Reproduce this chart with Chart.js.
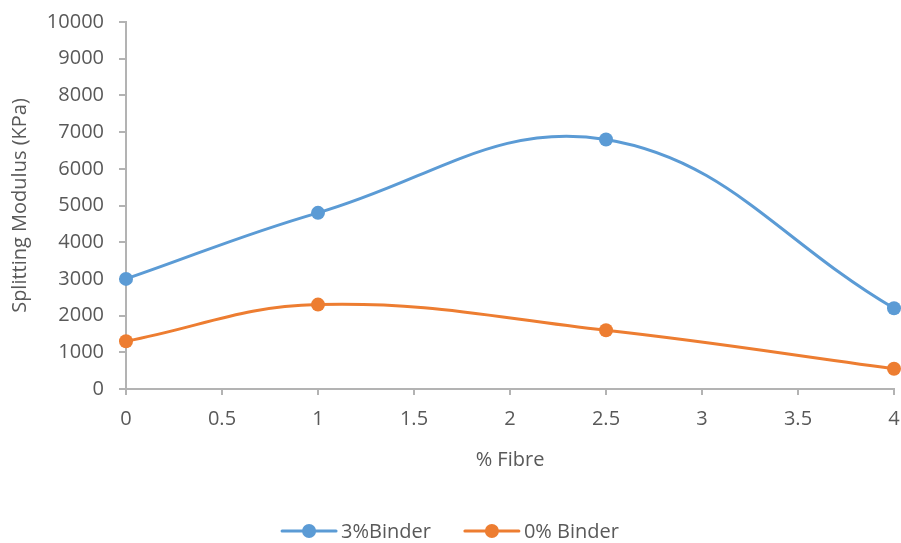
<!DOCTYPE html>
<html>
<head>
<meta charset="utf-8">
<title>Splitting Modulus vs % Fibre</title>
<script src="https://cdn.jsdelivr.net/npm/chart.js@4/dist/chart.umd.min.js"></script>
<style>
  html, body { margin: 0; padding: 0; background: #ffffff; }
  #wrap { width: 901px; height: 543px; }
</style>
</head>
<body>
<div id="wrap"><canvas id="chart" width="901" height="543"></canvas></div>
<script>
// Fibre content (%) and splitting modulus (kPa) for each binder content
const fibre = [0, 1, 2.5, 4];
const binder3 = [3000, 4800, 6800, 2200];
const binder0 = [1300, 2300, 1600, 550];
const seriesNames = ['3%Binder', '0% Binder'];
const seriesColors = ['#5b9bd5', '#ed7d31'];

const xTitle = '% Fibre';
const yTitle = 'Splitting Modulus (KPa)';

const FONT = "'Open Sans', 'Liberation Sans', sans-serif";
const TEXT = '#595959';
const AXIS = '#b3b3b3';

function toPoints(xs, ys) {
  return xs.map((x, i) => ({ x: x, y: ys[i] }));
}

// Plain number labels (no thousands separators, no forced decimals)
function plain(value) { return String(value); }

// Legend drawn below the axes: short line with a marker, then the series name
const lineLegend = {
  id: 'lineLegend',
  afterDraw(chart) {
    const ctx = chart.ctx;
    const sets = chart.data.datasets;
    const lineLen = 54, textGap = 5, itemGap = 34, cy = 531;
    ctx.save();
    ctx.font = '20px ' + FONT;
    ctx.textBaseline = 'middle';
    const widths = sets.map(ds => lineLen + textGap + ctx.measureText(ds.label).width);
    const total = widths.reduce((a, b) => a + b, 0) + itemGap * (sets.length - 1);
    let x = (chart.width - total) / 2;
    sets.forEach((ds, i) => {
      ctx.strokeStyle = ds.borderColor;
      ctx.lineWidth = 3;
      ctx.lineCap = 'round';
      ctx.beginPath();
      ctx.moveTo(x, cy);
      ctx.lineTo(x + lineLen, cy);
      ctx.stroke();
      ctx.fillStyle = ds.backgroundColor;
      ctx.beginPath();
      ctx.arc(x + lineLen / 2, cy, 7, 0, Math.PI * 2);
      ctx.fill();
      ctx.fillStyle = TEXT;
      ctx.textAlign = 'left';
      ctx.fillText(ds.label, x + lineLen + textGap, cy + 1);
      x += widths[i] + itemGap;
    });
    ctx.restore();
  }
};

const seriesValues = [binder3, binder0];

new Chart(document.getElementById('chart'), {
  type: 'line',
  data: {
    datasets: seriesValues.map((vals, i) => ({
      label: seriesNames[i],
      data: toPoints(fibre, vals),
      borderColor: seriesColors[i],
      backgroundColor: seriesColors[i],
      borderWidth: 3,
      pointRadius: 7,
      pointHoverRadius: 7,
      pointBorderWidth: 0,
      tension: 0.4,
      clip: false,
      fill: false
    }))
  },
  options: {
    responsive: false,
    animation: false,
    events: [],
    layout: { padding: { top: 22, right: 7, bottom: 64, left: 0 } },
    plugins: {
      legend: { display: false },
      tooltip: { enabled: false }
    },
    scales: {
      x: {
        type: 'linear',
        min: 0,
        max: 4,
        ticks: {
          stepSize: 0.5,
          color: TEXT,
          font: { family: FONT, size: 20 },
          padding: 12,
          maxRotation: 0,
          autoSkip: false,
          callback: plain
        },
        grid: { display: true, drawOnChartArea: false, drawTicks: true, tickLength: 6, color: AXIS, lineWidth: 2 },
        border: { display: true, color: AXIS, width: 2 },
        title: {
          display: true,
          text: xTitle,
          color: TEXT,
          font: { family: FONT, size: 20 },
          padding: { top: 0, bottom: 7 }
        },
        afterFit(scale) {
          scale.height = 90;
          scale.paddingLeft = 0;
          scale.paddingRight = 0;
        }
      },
      y: {
        min: 0,
        max: 10000,
        ticks: {
          stepSize: 1000,
          color: TEXT,
          font: { family: FONT, size: 20 },
          padding: 15,
          callback: plain
        },
        grid: { display: true, drawOnChartArea: false, drawTicks: true, tickLength: 7, color: AXIS, lineWidth: 2 },
        border: { display: true, color: AXIS, width: 2 },
        title: {
          display: true,
          text: yTitle,
          color: TEXT,
          font: { family: FONT, size: 20 },
          padding: { top: 8, bottom: 0 }
        },
        afterFit(scale) {
          scale.width = 126;
          scale.paddingTop = 0;
          scale.paddingBottom = 0;
        }
      }
    }
  },
  plugins: [lineLegend]
});
</script>
</body>
</html>
